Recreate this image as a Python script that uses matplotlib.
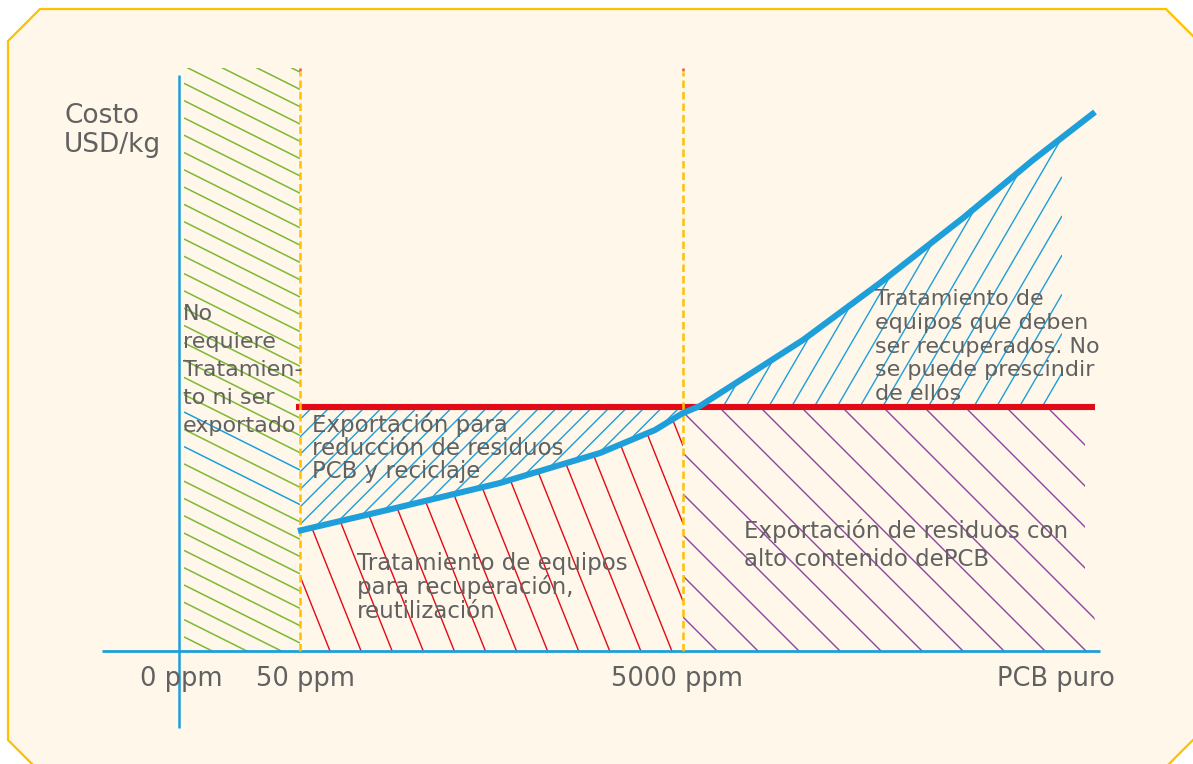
import numpy as np
import matplotlib
matplotlib.use("Agg")
import matplotlib.pyplot as plt
from matplotlib.patches import Polygon
from matplotlib.collections import LineCollection

# ---- data (diagram units: x = position along concentration axis, y = cost) ----
conc_labels = ["0 ppm", "50 ppm", "5000 ppm", "PCB puro"]
conc_marks = [0, 121, 504, 916]
export_cost = 244

curve_conc = [119, 221, 321, 421, 476, 504, 521, 624, 701, 784, 854, 916]
curve_cost = [120, 144, 168, 198, 221, 238, 245, 311, 368, 433, 491, 539]

region_texts = [
    "No\nrequiere\nTratamien-\nto ni ser\nexportado",
    "Exportación para\nreducción de residuos\nPCB y reciclaje",
    "Tratamiento de equipos\npara recuperación,\nreutilización",
    "Tratamiento de\nequipos que deben\nser recuperados. No\nse puede prescindir\nde ellos",
    "Exportación de residuos con\nalto contenido dePCB",
]
y_label = "Costo\nUSD/kg"

# ---- colours ----
BG = "#FEF7EA"
FRAME = "#FFC000"
BLUE = "#1E9FD9"
RED = "#E30A17"
GREEN = "#7DB932"
PURPLE = "#8E44A0"
TXT = "#616161"

fig = plt.figure(figsize=(11.93, 7.64), dpi=100, facecolor="white")
ax = fig.add_axes([0, 0, 1, 1])
ax.set_xlim(-179, 1014)
ax.set_ylim(-113, 651)
ax.axis("off")

# octagonal card behind the diagram
card = Polygon([(-139, 642), (987, 642), (1018, 611), (1018, -85), (988, -115),
                (-145, -115), (-171, -89), (-171, 610)],
               closed=True, fc=BG, ec=FRAME, lw=1.6, clip_on=False, zorder=0)
ax.add_patch(card)


def hatch(poly, slope, c0, step, colors, lw=1.0):
    patch = Polygon(poly, closed=True, fc="none", ec="none")
    ax.add_patch(patch)
    pts = np.array(poly, dtype=float)
    x0, x1 = pts[:, 0].min(), pts[:, 0].max()
    cs = pts[:, 1] - slope * pts[:, 0]
    k0 = int(np.floor((cs.min() - c0) / step)) - 1
    k1 = int(np.ceil((cs.max() - c0) / step)) + 1
    segs, cols = [], []
    for k in range(k0, k1 + 1):
        c = c0 + k * step
        segs.append([(x0, slope * x0 + c), (x1, slope * x1 + c)])
        cols.append(colors(k) if callable(colors) else colors)
    lc = LineCollection(segs, colors=cols, linewidths=lw, zorder=1)
    lc.set_clip_path(patch)
    ax.add_collection(lc)


def block(x, y, text, fs, step):
    # one text object per line so the spacing stays even
    for i, line in enumerate(text.split("\n")):
        ax.text(x, y - i * step, line, fontsize=fs, family="DejaVu Sans",
                color=TXT, ha="left", va="baseline", zorder=7)


cx = np.array(curve_conc, dtype=float)
cy = np.array(curve_cost, dtype=float)
m1, m2 = conc_marks[1], conc_marks[2]
x_cross = np.interp(export_cost, cy, cx)
top = 583

# no treatment zone (green, with two blue strokes)
hatch([(5, 0), (m1, 0), (m1, top), (5, top)], -0.5, 241.5, 17.3,
      lambda k: BLUE if k in (0, -2) else GREEN, lw=1.1)

# export for reduction (blue, between red line and curve)
inner = [(x, y) for x, y in zip(cx, cy) if m1 < x < m2][::-1]
hatch([(m1, export_cost), (m2, export_cost), (m2, np.interp(m2, cx, cy))] + inner
      + [(m1, np.interp(m1, cx, cy))], 1.0, 58, 17.5, BLUE, lw=1.0)

# treatment for recovery (red, below curve)
hatch([(m1, 0), (m2, 0), (m2, np.interp(m2, cx, cy))] + inner
      + [(m1, np.interp(m1, cx, cy))], -2.5, 377.5, 77.7, RED, lw=1.0)

# must be recovered (blue, above red line)
x_right = 883
upper = [(x, y) for x, y in zip(cx, cy) if x_cross < x < x_right]
hatch([(x_cross, export_cost)] + upper
      + [(x_right, np.interp(x_right, cx, cy)), (x_right, export_cost)],
      1.72, -691.7, 39.2, BLUE, lw=1.0)

# high content export (purple)
hatch([(m2, 0), (m2, export_cost), (906, export_cost), (906, 70), (924, 0)],
      -1.0, 538, 41, PURPLE, lw=1.0)

# axes
ax.plot([0, 0], [-77, 576], color=BLUE, lw=1.8, zorder=3, solid_capstyle="butt")
ax.plot([-77, 921], [0, 0], color=BLUE, lw=2.0, zorder=3, solid_capstyle="butt")

# export cost line
ax.plot([117, conc_marks[3]], [export_cost, export_cost], color=RED, lw=4.4,
        zorder=4, solid_capstyle="butt")

# threshold markers
for xm in (m1, m2):
    ax.plot([xm, xm], [0, top - 4], color=FRAME, lw=1.8, ls=(0, (3, 1.6)), zorder=5)
    ax.plot([xm, xm], [top - 3, top], color="#F05A28", lw=1.8, zorder=5,
            solid_capstyle="butt")

# cost curve
ax.plot(cx, cy, color=BLUE, lw=4.4, zorder=6, solid_capstyle="butt")

# texts
block(-115, 528, y_label, 19, 29)
text_pos = [(4, 331, 16, 28), (133, 219, 16.5, 23), (178, 81, 16.5, 24),
            (696, 346, 16, 23.8), (565, 113, 16.5, 28)]
for txt, (tx, ty, fs, step) in zip(region_texts, text_pos):
    block(tx, ty, txt, fs, step)

label_x = [2, 126, 498, 877]
for lab, lx in zip(conc_labels, label_x):
    ax.text(lx, -35, lab, fontsize=18.5, family="DejaVu Sans", color=TXT,
            ha="center", va="baseline", zorder=7)

fig.savefig("out.png", dpi=100, facecolor="white")
